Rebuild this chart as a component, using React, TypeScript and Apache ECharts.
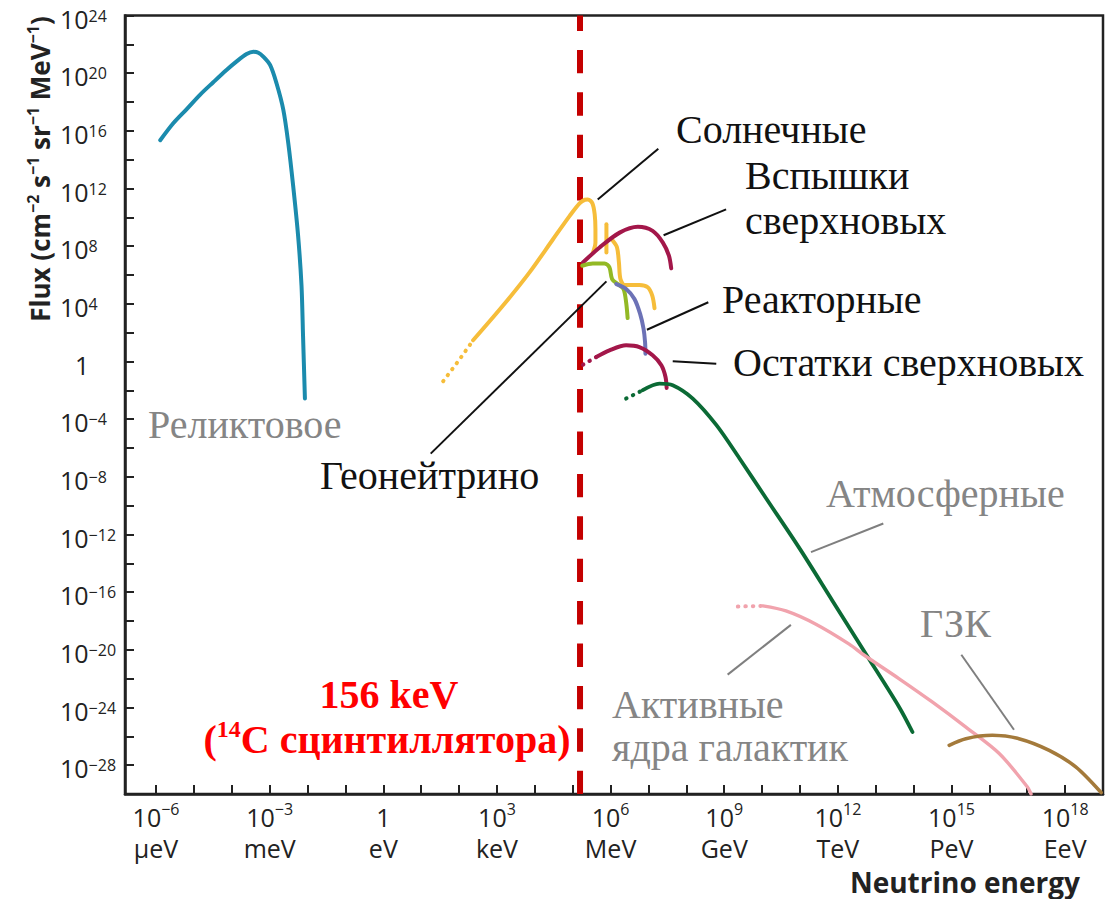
import React, { useEffect, useRef } from 'react';
import * as echarts from 'echarts';

// x: log10(E / eV), y: log10(flux)
const relic = [[-5.89, 15.35], [-5.54, 16.54], [-5.19, 17.51], [-4.84, 18.5], [-4.49, 19.37], [-4.14, 20.22], [-3.88, 20.8], [-3.61, 21.33], [-3.43, 21.49], [-3.3, 21.42], [-3.17, 21.15], [-2.99, 20.57], [-2.82, 19.3], [-2.64, 17.46], [-2.51, 15.16], [-2.38, 12.17], [-2.25, 8.72], [-2.16, 5.26], [-2.12, 1.81], [-2.07, -2.57]];
const solarDots = [[1.58, -1.37], [2.0, 0.1], [2.37, 1.47]];
const solarMain = [[2.37, 1.47], [3.16, 3.88], [3.86, 6.18], [4.48, 8.48], [4.92, 10.1], [5.18, 10.97], [5.32, 11.22], [5.4, 11.24], [5.52, 10.97], [5.58, 10.21], [5.6, 9.17], [5.6, 8.25], [5.53, 7.52]];
const solarBe7 = [[5.89, 9.52], [5.89, 7.56]];
const solarB8 = [[6.06, 8.37], [6.17, 7.91], [6.22, 6.87], [6.26, 5.72], [6.37, 5.31], [6.76, 5.31], [6.98, 5.15], [7.1, 4.57], [7.16, 3.7]];
const snBurst = [[5.27, 6.87], [5.71, 7.91], [6.24, 8.94], [6.72, 9.34], [7.11, 9.06], [7.38, 8.25], [7.54, 7.34], [7.6, 6.46]];
const geo = [[5.25, 6.64], [5.53, 6.8], [5.84, 6.8], [5.97, 6.53], [6.04, 5.72], [6.19, 5.37], [6.34, 5.03], [6.41, 4.11], [6.45, 3.01]];
const reactor = [[6.15, 5.37], [6.41, 5.03], [6.63, 4.34], [6.78, 3.3], [6.87, 2.27], [6.91, 1.35], [6.92, 0.54]];
const snRemnantDots = [[5.27, -0.22], [5.62, 0.31]];
const snRemnant = [[5.62, 0.31], [5.97, 0.77], [6.41, 1.12], [6.76, 1.0], [7.11, 0.43], [7.34, -0.26], [7.45, -1.07], [7.48, -1.83]];
const atmDots = [[6.41, -2.57], [6.85, -1.99]];
const atm = [[6.85, -1.99], [7.29, -1.53], [7.64, -1.64], [8.17, -2.57], [8.79, -4.4], [9.4, -6.71], [10.1, -9.47], [10.98, -12.93], [11.86, -16.61], [12.74, -20.29], [13.62, -23.98], [13.97, -25.7]];
const agnDots = [[9.36, -17.0], [10.02, -16.95]];
const agn = [[10.02, -16.95], [10.63, -17.3], [11.42, -18.22], [12.3, -19.6], [12.65, -20.29], [13.62, -22.01], [14.5, -23.63], [15.38, -25.36], [16.26, -27.19], [17.0, -29.5], [17.1, -30.0]];
const gzk = [[14.94, -26.62], [15.38, -26.16], [16.08, -25.93], [16.78, -26.16], [17.58, -26.97], [18.28, -28.12], [18.95, -29.9]];

const cutoffEnergyEV = 156e3; // 156 keV

// leader lines (data coordinates)
const leaderSolar = [[5.66, 11.24], [7.26, 14.75]];
const leaderBurst = [[7.4, 8.76], [9.05, 10.55]];
const leaderReactor = [[6.96, 2.2], [8.58, 4.11]];
const leaderRemnant = [[7.64, 0.02], [8.79, -0.15]];
const leaderGeo = [[5.89, 5.56], [1.25, -6.39]];
const leaderAtm = [[11.29, -13.22], [13.2, -11.24]];
const leaderAgn = [[9.09, -21.72], [10.76, -18.27]];
const leaderGzk = [[15.26, -20.34], [16.65, -25.54]];

// axes
const X_MIN = -6.82;
const X_MAX = 19;
const Y_MIN = -30;
const Y_MAX = 24;
const xTickValues = [-6, -5, -4, -3, -2, -1, 0, 1, 2, 3, 4, 5, 6, 7, 8, 9, 10, 11, 12, 13, 14, 15, 16, 17, 18];
const xLabelExp = [-6, -3, 0, 3, 6, 9, 12, 15, 18];
const xLabelUnits = ['μeV', 'meV', 'eV', 'keV', 'MeV', 'GeV', 'TeV', 'PeV', 'EeV'];
const yLabelExp = [-28, -24, -20, -16, -12, -8, -4, 0, 4, 8, 12, 16, 20, 24];

const C = {
  relic: '#1b8bad',
  solar: '#f6bd3a',
  burst: '#a3174a',
  geo: '#93b925',
  reactor: '#6c72b6',
  atm: '#0b6a35',
  agn: '#f1a3ad',
  gzk: '#a47a3b',
  red: '#c40000',
};

const sup = (e: number) => (e < 0 ? '−' + -e : String(e));
const SANS = "'Open Sans', 'Noto Sans', sans-serif";
const SERIF = "'Liberation Serif', 'DejaVu Serif', serif";

function lineSeries(name: string, data: number[][], color: string, width = 4) {
  return {
    name,
    type: 'line',
    data,
    showSymbol: false,
    symbol: 'none',
    smooth: 0.3,
    silent: true,
    lineStyle: { color, width, cap: 'round', join: 'round' },
    z: 3,
  };
}
function dotSeries(name: string, data: number[][], color: string) {
  return {
    name,
    type: 'line',
    data,
    showSymbol: false,
    symbol: 'none',
    silent: true,
    lineStyle: { color, width: 4, type: [0.5, 7], cap: 'round' },
    z: 3,
  };
}

function leader(pts: number[][], color: string) {
  return [
    { coord: pts[0], lineStyle: { color, width: 2, type: 'solid' } },
    { coord: pts[1] },
  ];
}

export default function App() {
  const ref = useRef<HTMLDivElement>(null);
  useEffect(() => {
    if (!ref.current) return;
    const chart = echarts.init(ref.current, null, { renderer: 'svg' });
    const cutX = Math.log10(cutoffEnergyEV);
    const labelText = (txt: string, x: number, y: number, color: string, size = 40) => ({
      type: 'text',
      x,
      y,
      silent: true,
      style: { text: txt, fill: color, font: `${size}px ${SERIF}`, align: 'left', verticalAlign: 'middle' },
    });
    const option = {
      animation: false,
      backgroundColor: '#ffffff',
      grid: { left: 125, top: 12, right: 9, bottom: 105, show: true, borderColor: '#222', borderWidth: 2.5, backgroundColor: 'transparent' },
      xAxis: {
        type: 'value',
        min: X_MIN,
        max: X_MAX,
        axisLine: { show: true, onZero: false, lineStyle: { color: '#222', width: 2.5 } },
        axisTick: { show: true, inside: true, length: 9, customValues: xTickValues, lineStyle: { color: '#222', width: 2 } },
        splitLine: { show: false },
        axisLabel: {
          customValues: xLabelExp,
          margin: 7,
          formatter: (v: number) => {
            const i = xLabelExp.indexOf(Math.round(v));
            if (i < 0) return '';
            const e = xLabelExp[i];
            const top = e === 0 ? '{b|1}' : `{b|10}{s|${sup(e)}}`;
            return `${top}\n{b|${xLabelUnits[i]}}`;
          },
          rich: {
            b: { fontSize: 25, fontFamily: SANS, color: '#222', lineHeight: 31 },
            s: { fontSize: 16, fontFamily: SANS, color: '#222', verticalAlign: 'top', lineHeight: 18 },
          },
        },
      },
      yAxis: {
        type: 'value',
        min: Y_MIN,
        max: Y_MAX,
        interval: 2,
        axisLine: { show: true, onZero: false, lineStyle: { color: '#222', width: 2.5 } },
        axisTick: { show: true, inside: true, length: 9, lineStyle: { color: '#222', width: 2 } },
        splitLine: { show: false },
        axisLabel: {
          customValues: yLabelExp,
          align: 'left',
          margin: 65,
          formatter: (v: number) => (Math.round(v) === 0 ? '{o|1}' : `{b|10}{s|${sup(Math.round(v))}}`),
          rich: {
            b: { fontSize: 25, fontFamily: SANS, color: '#222', lineHeight: 28, padding: [6, 0, 0, 0] },
            o: { fontSize: 25, fontFamily: SANS, color: '#222', lineHeight: 28, padding: [6, 0, 0, 15] },
            s: { fontSize: 16, fontFamily: SANS, color: '#222', verticalAlign: 'top', lineHeight: 18, padding: [6, 0, 0, 0] },
          },
        },
      },
      series: [
        {
          name: 'cutoff',
          type: 'line',
          data: [[cutX, Y_MAX], [cutX, Y_MIN]],
          showSymbol: false,
          symbol: 'none',
          silent: true,
          lineStyle: { color: C.red, width: 6, type: [23.4, 19], dashOffset: 8, cap: 'butt' },
          z: 2,
        },
        lineSeries('relic', relic, C.relic),
        dotSeries('solarDots', solarDots, C.solar),
        lineSeries('solar', solarMain, C.solar),
        lineSeries('solarBe7', solarBe7, C.solar),
        lineSeries('solarB8', solarB8, C.solar),
        lineSeries('burst', snBurst, C.burst),
        lineSeries('geo', geo, C.geo),
        lineSeries('reactor', reactor, C.reactor),
        dotSeries('remnantDots', snRemnantDots, C.burst),
        lineSeries('remnant', snRemnant, C.burst),
        dotSeries('atmDots', atmDots, C.atm),
        lineSeries('atm', atm, C.atm, 3.8),
        dotSeries('agnDots', agnDots, C.agn),
        lineSeries('agn', agn, C.agn, 3.4),
        lineSeries('gzk', gzk, C.gzk, 3.6),
        {
          name: 'leaders',
          type: 'line',
          data: [],
          silent: true,
          markLine: {
            silent: true,
            animation: false,
            symbol: ['none', 'none'],
            label: { show: false },
            lineStyle: { color: '#111', width: 2, type: 'solid' },
            data: [
              leader(leaderSolar, '#111'),
              leader(leaderBurst, '#111'),
              leader(leaderReactor, '#111'),
              leader(leaderRemnant, '#111'),
              leader(leaderGeo, '#111'),
              leader(leaderAtm, '#7f7f7f'),
              leader(leaderAgn, '#7f7f7f'),
              leader(leaderGzk, '#7f7f7f'),
            ],
          },
          z: 4,
        },
      ],
      graphic: [
        labelText('Солнечные', 676, 129, '#111'),
        labelText('Вспышки', 745, 175, '#111'),
        labelText('сверхновых', 745, 220, '#111'),
        labelText('Реакторные', 722, 299, '#111'),
        labelText('Остатки сверхновых', 733, 362, '#111'),
        labelText('Геонейтрино', 320, 475, '#111'),
        labelText('Реликтовое', 148, 424, '#858585'),
        labelText('Атмосферные', 826, 493, '#858585'),
        labelText('ГЗК', 920, 623, '#858585'),
        labelText('Активные', 612, 704, '#858585'),
        labelText('ядра галактик', 612, 747, '#858585'),
        {
          type: 'text',
          x: 389,
          y: 694,
          silent: true,
          style: { text: '156 keV', fill: '#ff0000', font: `bold 40px ${SERIF}`, align: 'center', verticalAlign: 'middle' },
        },
        {
          type: 'text',
          x: 387,
          y: 739,
          silent: true,
          style: {
            text: '{r|(}{s|14}{r|C сцинтиллятора)}',
            align: 'center',
            verticalAlign: 'middle',
            rich: {
              r: { fontSize: 40, fontWeight: 'bold', fontFamily: SERIF, fill: '#ff0000', lineHeight: 44 },
              s: { fontSize: 24, fontWeight: 'bold', fontFamily: SERIF, fill: '#ff0000', verticalAlign: 'top', lineHeight: 26 },
            },
          },
        },
        {
          type: 'text',
          x: 40,
          y: 169,
          rotation: Math.PI / 2,
          silent: true,
          style: {
            text: '{b|Flux (cm}{s|−2}{b| s}{s|−1}{b| sr}{s|−1}{b| MeV}{s|−1}{b|)}',
            align: 'center',
            verticalAlign: 'middle',
            rich: {
              b: { fontSize: 26, fontWeight: 'bold', fontFamily: SANS, fill: '#222', lineHeight: 30 },
              s: { fontSize: 16, fontWeight: 'bold', fontFamily: SANS, fill: '#222', verticalAlign: 'top', lineHeight: 17 },
            },
          },
        },
        {
          type: 'text',
          x: 1080,
          y: 882,
          silent: true,
          style: { text: 'Neutrino energy', fill: '#222', font: `bold 28px ${SANS}`, lineHeight: 30, align: 'right', verticalAlign: 'middle' },
        },
      ],
    };
    chart.setOption(option as any);
    return () => chart.dispose();
  }, []);
  return <div ref={ref} style={{ position: 'fixed', left: 0, top: 0, width: '1112px', height: '899px' }} />;
}
